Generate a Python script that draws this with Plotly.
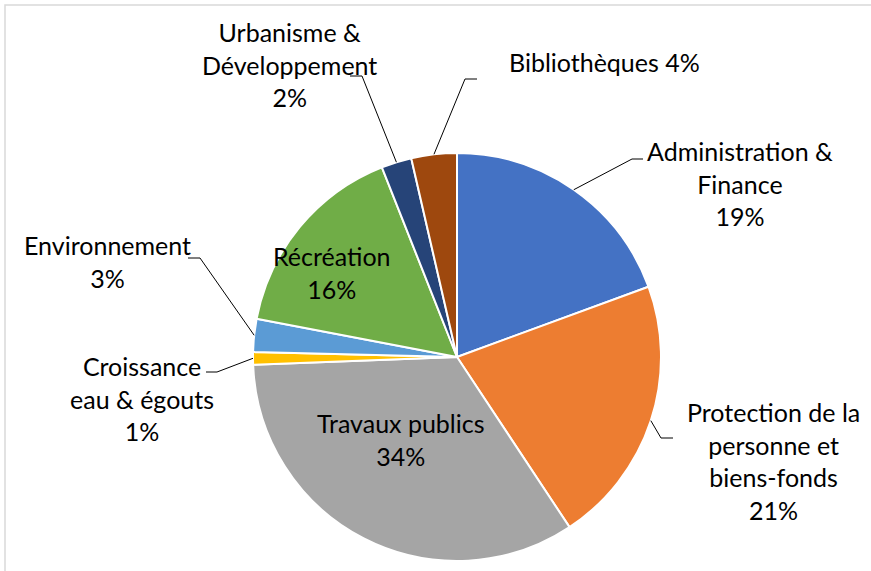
import math
import plotly.graph_objects as go

# ---- data ----
categories = [
    "Administration & Finance",
    "Protection de la personne et biens-fonds",
    "Travaux publics",
    "Croissance eau & égouts",
    "Environnement",
    "Récréation",
    "Urbanisme & Développement",
    "Bibliothèques",
]
label_text = [
    "Administration &<br>Finance",
    "Protection de la<br>personne et<br>biens-fonds",
    "Travaux publics",
    "Croissance<br>eau & égouts",
    "Environnement",
    "Récréation",
    "Urbanisme &<br>Développement",
    "Bibliothèques",
]
values = [19.4, 21.3, 33.7, 1.0, 2.6, 16.0, 2.4, 3.6]

# ---- styling / layout ----
colors = ["#4472C4", "#ED7D31", "#A5A5A5", "#FFC000",
          "#5B9BD5", "#70AD47", "#264478", "#9E480E"]
W, H = 871, 571
CX, CY, R = 457, 357, 204
FONT = "Lato"
FS = 25

# label placement in pixels: (center x, center y, separator, elbow, end)
label_layout = [
    (740, 184, "<br>", (632, 159), (643, 159)),
    (773, 461, "<br>", (661, 438), (673, 438)),
    (401, 440, "<br>", None, None),
    (142, 398, "<br>", (217, 372), (206, 372)),
    (107, 261, "<br>", (200, 258), (188, 258)),
    (332, 272, "<br>", None, None),
    (289, 65, "<br>", (362, 76), (350, 76)),
    (604, 62, " ", (465, 79), (477, 79)),
]


def px(x, y):
    return x / W, 1 - y / H


fig = go.Figure()
fig.add_trace(go.Pie(
    labels=categories,
    values=values,
    sort=False,
    direction="clockwise",
    rotation=0,
    marker=dict(colors=colors, line=dict(color="white", width=2)),
    textinfo="none",
    hoverinfo="label+percent",
    showlegend=False,
    domain=dict(x=[(CX - R) / W, (CX + R) / W],
                y=[1 - (CY + R) / H, 1 - (CY - R) / H]),
))

total = sum(values)
annotations = []
shapes = []
cum = 0.0
for name_txt, v, lay in zip(label_text, values, label_layout):
    frac = v / total
    mid = (cum + frac / 2) * 2 * math.pi
    cum += frac
    pct = f"{round(frac * 100)}%"
    lx, ly, sep, elbow, end = lay
    ax_, ay_ = px(lx, ly)
    annotations.append(dict(
        x=ax_, y=ay_, xref="paper", yref="paper",
        text=name_txt + sep + pct, showarrow=False,
        xanchor="center", yanchor="middle", align="center",
        font=dict(family=FONT, size=FS, color="#000000"),
    ))
    if elbow is not None:
        sx = CX + R * math.sin(mid)
        sy = CY - R * math.cos(mid)
        p0 = px(sx, sy)
        p1 = px(*elbow)
        p2 = px(*end)
        shapes.append(dict(
            type="path", xref="paper", yref="paper",
            path=f"M {p0[0]},{p0[1]} L {p1[0]},{p1[1]} L {p2[0]},{p2[1]}",
            line=dict(color="#000000", width=1),
        ))

# chart-area border (top and left visible)
b0 = px(5, 5)
b1 = px(W + 20, H + 20)
shapes.append(dict(type="rect", xref="paper", yref="paper",
                   x0=b0[0], y0=b1[1], x1=b1[0], y1=b0[1],
                   line=dict(color="#D9D9D9", width=1.5),
                   fillcolor="rgba(0,0,0,0)", layer="below"))

fig.update_layout(
    width=W, height=H,
    margin=dict(l=0, r=0, t=0, b=0),
    paper_bgcolor="white",
    plot_bgcolor="white",
    annotations=annotations,
    shapes=shapes,
    font=dict(family=FONT, size=FS),
)

fig.write_html("out.html",
               config={"displayModeBar": False},
               post_script="document.body.style.margin='0';")
